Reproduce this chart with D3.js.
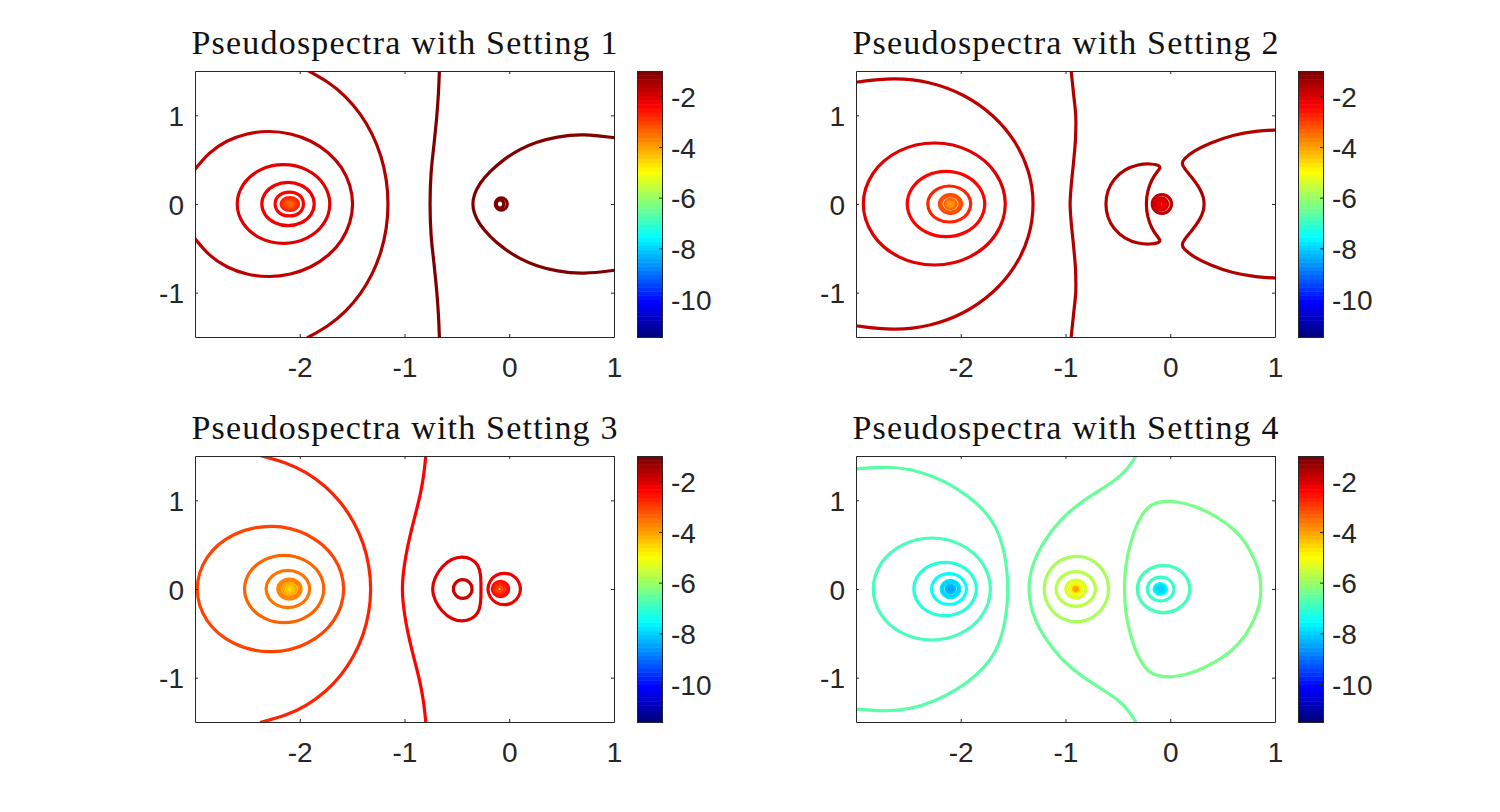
<!DOCTYPE html>
<html lang="en">

<head>
    <meta charset="utf-8">
    <title>Pseudospectra</title>
    <script src="https://cdnjs.cloudflare.com/ajax/libs/d3/7.8.5/d3.min.js"></script>
    <style type="text/css">
        body {
            margin: 0;
            background: #fff;
        }

        svg {
            display: block;
        }

        .tick text {
            font-family: "Liberation Sans", Arial, sans-serif;
            font-size: 28px;
            fill: #262626;
        }

        .tick line,
        .domain {
            stroke: #262626;
        }

        .title {
            font-family: "Liberation Serif", serif;
            font-size: 34px;
            fill: #111;
        }

        .contour {
            fill: none;
            stroke-width: 3.2;
        }
    </style>
</head>

<body>
    <script type="text/javascript">
        var titles = ["Pseudospectra with Setting 1", "Pseudospectra with Setting 2", "Pseudospectra with Setting 3", "Pseudospectra with Setting 4"];
        var xTicks = [-2, -1, 0, 1];
        var yTicks = [-1, 0, 1];
        var barTicks = [-10, -8, -6, -4, -2];
        var xLimits = [-3, 1];
        var yLimits = [-1.5, 1.5];
        var barLimits = [-11.5, -1];

        // each curve is the upper half of a level line; the lower half is its mirror
        var levels1 = [-1.5, -1.7, -2.0, -2.2, -2.4, -2.65, -2.9, -3.1, -3.3, -1.1, -1.05, -1.05, -1.1];
        var curves1 = [
            [[-1.93, 1.51], [-1.726, 1.377], [-1.562, 1.218], [-1.421, 1.022], [-1.306, 0.795], [-1.221, 0.544], [-1.169, 0.276], [-1.152, 0]],
            [[-3.028, 0.35], [-2.867, 0.585], [-2.7, 0.716], [-2.504, 0.799], [-2.295, 0.827], [-2.086, 0.799], [-1.89, 0.716], [-1.723, 0.585], [-1.594, 0.414], [-1.515, 0.214], [-1.486, 0]],
            [[-1.713, 0], [-1.772, 0.222], [-1.934, 0.385], [-2.155, 0.444], [-2.376, 0.385], [-2.538, 0.222], [-2.597, 0]],
            [[-1.862, 0], [-1.895, 0.122], [-1.987, 0.212], [-2.112, 0.245], [-2.237, 0.212], [-2.329, 0.122], [-2.362, 0]],
            [[-1.965, 0], [-2.0, 0.096], [-2.098, 0.135], [-2.198, 0.096], [-2.235, 0]],
            [[-2.012, 0], [-2.036, 0.052], [-2.095, 0.073], [-2.154, 0.052], [-2.178, 0]],
            [[-2.035, 0], [-2.053, 0.039], [-2.095, 0.055], [-2.137, 0.039], [-2.155, 0]],
            [[-2.055, 0], [-2.067, 0.025], [-2.095, 0.036], [-2.123, 0.025], [-2.135, 0]],
            [[-2.075, 0], [-2.081, 0.013], [-2.095, 0.018], [-2.109, 0.013], [-2.115, 0]],
            [[-0.667, 1.5], [-0.676, 1.252], [-0.692, 0.989], [-0.717, 0.688], [-0.746, 0.35], [-0.756, 0]],
            [[1.02, 0.745], [0.705, 0.793], [0.451, 0.759], [0.26, 0.699], [0.102, 0.62], [-0.057, 0.5], [-0.184, 0.368], [-0.286, 0.229], [-0.337, 0.105], [-0.352, 0]],
            [[-0.019, 0], [-0.036, 0.048], [-0.076, 0.068], [-0.116, 0.048], [-0.133, 0]],
            [[-0.052, 0], [-0.063, 0.032], [-0.088, 0.046], [-0.113, 0.032], [-0.124, 0]]
        ];

        var levels2 = [-1.8, -2.05, -2.35, -2.8, -3.1, -3.2, -3.4, -3.6, -3.8, -1.65, -1.5, -1.5, -1.7, -1.95, -2.1, -2.2];
        var curves2 = [
            [[-3.02, 1.37], [-2.638, 1.429], [-2.29, 1.38], [-1.966, 1.238], [-1.688, 1.01], [-1.475, 0.715], [-1.34, 0.37], [-1.295, 0]],
            [[-1.575, 0], [-1.666, 0.344], [-1.914, 0.596], [-2.25, 0.688], [-2.59, 0.596], [-2.838, 0.344], [-2.93, 0]],
            [[-1.771, 0], [-1.821, 0.184], [-1.956, 0.319], [-2.141, 0.368], [-2.326, 0.319], [-2.461, 0.184], [-2.511, 0]],
            [[-1.905, 0], [-1.932, 0.102], [-2.007, 0.176], [-2.11, 0.203], [-2.212, 0.176], [-2.288, 0.102], [-2.315, 0]],
            [[-1.993, 0], [-2.024, 0.074], [-2.098, 0.105], [-2.172, 0.074], [-2.203, 0]],
            [[-2.008, 0], [-2.034, 0.064], [-2.098, 0.09], [-2.162, 0.064], [-2.188, 0]],
            [[-2.046, 0], [-2.061, 0.037], [-2.098, 0.052], [-2.135, 0.037], [-2.15, 0]],
            [[-2.058, 0], [-2.07, 0.028], [-2.098, 0.04], [-2.126, 0.028], [-2.138, 0]],
            [[-2.078, 0], [-2.084, 0.014], [-2.098, 0.02], [-2.112, 0.014], [-2.118, 0]],
            [[-0.946, 1.5], [-0.924, 1.252], [-0.902, 0.989], [-0.905, 0.726], [-0.924, 0.462], [-0.946, 0.199], [-0.956, 0]],
            [[-0.232, 0], [-0.219, 0.143], [-0.178, 0.274], [-0.124, 0.368], [-0.092, 0.406], [-0.108, 0.44], [-0.194, 0.455], [-0.305, 0.447], [-0.432, 0.395], [-0.543, 0.282], [-0.603, 0.143], [-0.619, 0]],
            [[1.02, 0.836], [0.822, 0.823], [0.6, 0.782], [0.378, 0.688], [0.219, 0.594], [0.13, 0.508], [0.108, 0.462], [0.13, 0.406], [0.203, 0.305], [0.283, 0.18], [0.321, 0.068], [0.324, 0]],
            [[0.012, 0], [-0.015, 0.074], [-0.08, 0.105], [-0.145, 0.074], [-0.172, 0]],
            [[-0.025, 0], [-0.043, 0.05], [-0.085, 0.07], [-0.127, 0.05], [-0.145, 0]],
            [[-0.045, 0], [-0.057, 0.032], [-0.085, 0.045], [-0.113, 0.032], [-0.125, 0]],
            [[-0.065, 0], [-0.071, 0.016], [-0.085, 0.022], [-0.099, 0.016], [-0.105, 0]]
        ];

        var levels3 = [-2.65, -2.4, -3.0, -3.3, -3.5, -3.65, -3.75, -4.0, -4.2, -4.4, -4.6, -2.0, -1.85, -2.2, -2.45, -2.55, -2.8, -3.1];
        var curves3 = [
            [[-2.379, 1.505], [-2.128, 1.428], [-1.934, 1.316], [-1.757, 1.164], [-1.605, 0.977], [-1.482, 0.76], [-1.391, 0.52], [-1.336, 0.264], [-1.317, 0]],
            [[-0.797, 1.5], [-0.813, 1.308], [-0.841, 1.102], [-0.892, 0.857], [-0.946, 0.613], [-0.99, 0.368], [-1.016, 0.143], [-1.022, 0]],
            [[-1.581, 0], [-1.675, 0.354], [-1.931, 0.612], [-2.265, 0.707], [-2.629, 0.612], [-2.885, 0.354], [-2.978, 0]],
            [[-1.771, 0], [-1.822, 0.19], [-1.96, 0.329], [-2.149, 0.38], [-2.338, 0.329], [-2.476, 0.19], [-2.527, 0]],
            [[-1.905, 0], [-1.933, 0.105], [-2.009, 0.182], [-2.113, 0.21], [-2.217, 0.182], [-2.293, 0.105], [-2.321, 0]],
            [[-1.987, 0], [-2.02, 0.08], [-2.098, 0.113], [-2.176, 0.08], [-2.209, 0]],
            [[-2.003, 0], [-2.031, 0.067], [-2.098, 0.095], [-2.165, 0.067], [-2.193, 0]],
            [[-2.038, 0], [-2.055, 0.046], [-2.098, 0.066], [-2.141, 0.046], [-2.158, 0]],
            [[-2.053, 0], [-2.066, 0.034], [-2.098, 0.048], [-2.13, 0.034], [-2.143, 0]],
            [[-2.073, 0], [-2.08, 0.018], [-2.098, 0.026], [-2.116, 0.018], [-2.123, 0]],
            [[-2.09, 0], [-2.092, 0.006], [-2.098, 0.009], [-2.104, 0.006], [-2.106, 0]],
            [[-0.27, 0], [-0.27, 0.162], [-0.295, 0.274], [-0.359, 0.342], [-0.448, 0.368], [-0.549, 0.342], [-0.644, 0.256], [-0.714, 0.124], [-0.74, 0]],
            [[-0.355, 0], [-0.381, 0.074], [-0.444, 0.105], [-0.507, 0.074], [-0.533, 0]],
            [[0.107, 0], [0.086, 0.088], [0.03, 0.153], [-0.048, 0.177], [-0.126, 0.153], [-0.182, 0.088], [-0.203, 0]],
            [[-0.006, 0], [-0.029, 0.06], [-0.084, 0.085], [-0.139, 0.06], [-0.162, 0]],
            [[-0.019, 0], [-0.038, 0.051], [-0.084, 0.072], [-0.13, 0.051], [-0.149, 0]],
            [[-0.049, 0], [-0.062, 0.035], [-0.092, 0.05], [-0.122, 0.035], [-0.135, 0]],
            [[-0.067, 0], [-0.074, 0.018], [-0.092, 0.026], [-0.11, 0.018], [-0.117, 0]]
        ];

        var levels4 = [-6.6, -6.85, -7.2, -7.55, -7.85, -8.0, -8.15, -8.3, -8.5, -6.5, -6.4, -5.8, -5.6, -5.4, -5.15, -4.9, -4.4, -3.9, -6.85, -7.0, -7.55, -7.75, -8.0];
        var curves4 = [
            [[-3.02, 1.352], [-2.717, 1.383], [-2.479, 1.353], [-2.257, 1.271], [-2.035, 1.139], [-1.844, 0.97], [-1.702, 0.782], [-1.632, 0.613], [-1.581, 0.406], [-1.556, 0.18], [-1.549, 0]],
            [[-1.717, 0], [-1.792, 0.288], [-1.997, 0.498], [-2.276, 0.575], [-2.555, 0.498], [-2.76, 0.288], [-2.835, 0]],
            [[-1.851, 0], [-1.892, 0.15], [-2.001, 0.261], [-2.15, 0.301], [-2.299, 0.261], [-2.408, 0.15], [-2.448, 0]],
            [[-1.946, 0], [-1.968, 0.087], [-2.028, 0.15], [-2.112, 0.173], [-2.196, 0.15], [-2.257, 0.087], [-2.279, 0]],
            [[-2.01, 0], [-2.036, 0.069], [-2.098, 0.098], [-2.16, 0.069], [-2.186, 0]],
            [[-2.023, 0], [-2.045, 0.057], [-2.098, 0.08], [-2.151, 0.057], [-2.173, 0]],
            [[-2.056, 0], [-2.068, 0.032], [-2.098, 0.046], [-2.128, 0.032], [-2.14, 0]],
            [[-2.068, 0], [-2.077, 0.024], [-2.098, 0.034], [-2.119, 0.024], [-2.128, 0]],
            [[-2.086, 0], [-2.09, 0.01], [-2.098, 0.014], [-2.106, 0.01], [-2.11, 0]],
            [[-0.327, 1.5], [-0.4, 1.365], [-0.495, 1.252], [-0.638, 1.139], [-0.86, 0.977], [-1.051, 0.782], [-1.21, 0.538], [-1.321, 0.274], [-1.362, 0]],
            [[-0.441, 0], [-0.429, 0.256], [-0.384, 0.519], [-0.305, 0.782], [-0.21, 0.94], [-0.098, 0.989], [0.044, 0.996], [0.251, 0.932], [0.441, 0.82], [0.6, 0.688], [0.727, 0.519], [0.806, 0.331], [0.854, 0.18], [0.87, 0]],
            [[-0.59, 0], [-0.63, 0.184], [-0.743, 0.319], [-0.886, 0.368], [-1.05, 0.319], [-1.162, 0.184], [-1.203, 0]],
            [[-0.714, 0], [-0.739, 0.098], [-0.808, 0.169], [-0.902, 0.195], [-0.996, 0.169], [-1.065, 0.098], [-1.09, 0]],
            [[-0.807, 0], [-0.835, 0.071], [-0.902, 0.1], [-0.969, 0.071], [-0.997, 0]],
            [[-0.842, 0], [-0.86, 0.046], [-0.902, 0.065], [-0.944, 0.046], [-0.962, 0]],
            [[-0.862, 0], [-0.874, 0.031], [-0.902, 0.044], [-0.93, 0.031], [-0.942, 0]],
            [[-0.88, 0], [-0.886, 0.017], [-0.902, 0.024], [-0.918, 0.017], [-0.924, 0]],
            [[-0.894, 0], [-0.896, 0.006], [-0.902, 0.009], [-0.908, 0.006], [-0.91, 0]],
            [[0.187, 0], [0.153, 0.134], [0.061, 0.231], [-0.064, 0.267], [-0.189, 0.231], [-0.281, 0.134], [-0.314, 0]],
            [[0.035, 0], [-0.002, 0.095], [-0.092, 0.135], [-0.182, 0.095], [-0.219, 0]],
            [[-0.035, 0], [-0.053, 0.042], [-0.095, 0.06], [-0.137, 0.042], [-0.155, 0]],
            [[-0.05, 0], [-0.063, 0.032], [-0.095, 0.045], [-0.127, 0.032], [-0.14, 0]],
            [[-0.075, 0], [-0.081, 0.014], [-0.095, 0.02], [-0.109, 0.014], [-0.115, 0]]
        ];

        var allLevels = [levels1, levels2, levels3, levels4];
        var allCurves = [curves1, curves2, curves3, curves4];

        var w = 1500;
        var h = 812;
        var panelLeft = [195, 856, 195, 856];
        var panelTop = [71, 71, 456, 456];
        var panelW = 419;
        var panelH = 266;
        var barGap = 23;
        var barW = 25;
        var nColors = 64;

        // matlab jet, 64 steps
        function jet(t) {
            var k = Math.min(nColors - 1, Math.floor(t * nColors)) / (nColors - 1);
            function c(center) {
                return Math.round(255 * Math.max(0, Math.min(1, 1.5 - Math.abs(4 * k - center))));
            }
            return d3.rgb(c(3), c(2), c(1)).formatHex();
        }

        var barNorm = d3.scaleLinear().domain(barLimits).range([0, 1]);

        var svg = d3.select("body")
            .append("svg")
            .attr("width", w)
            .attr("height", h);

        var lineOpen = d3.line().curve(d3.curveCatmullRom.alpha(0.5));
        var lineClosed = d3.line().curve(d3.curveCatmullRomClosed.alpha(0.5));
        // long curves have enough points that the basis spline hides reading errors
        var lineOpenSmooth = d3.line().curve(d3.curveBasis);
        var lineClosedSmooth = d3.line().curve(d3.curveBasisClosed);

        function mirrored(curve) {
            var lower = curve.slice(0, -1).reverse().map(p => [p[0], -p[1]]);
            return curve.concat(lower);
        }

        titles.forEach(function (title, i) {
            var left = panelLeft[i];
            var top = panelTop[i];
            var xScale = d3.scaleLinear().domain(xLimits).range([0, panelW]);
            var yScale = d3.scaleLinear().domain(yLimits).range([panelH, 0]);

            var g = svg.append("g").attr("transform", "translate(" + left + "," + top + ")");

            g.append("clipPath").attr("id", "clip" + i)
                .append("rect").attr("width", panelW).attr("height", panelH);

            var plot = g.append("g").attr("clip-path", "url(#clip" + i + ")");
            plot.selectAll("path")
                .data(allCurves[i])
                .enter().append("path")
                .attr("class", "contour")
                .attr("stroke", (d, j) => jet(barNorm(allLevels[i][j])))
                .attr("d", function (d) {
                    var pts = mirrored(d).map(p => [xScale(p[0]), yScale(p[1])]);
                    var smooth = d.length > 7;
                    // curve starting on the real axis comes back to itself
                    if (d[0][1] === 0) {
                        pts.pop();
                        return (smooth ? lineClosedSmooth : lineClosed)(pts);
                    }
                    return (smooth ? lineOpenSmooth : lineOpen)(pts);
                });

            g.append("g").attr("transform", "translate(0," + panelH + ")")
                .call(d3.axisBottom(xScale).tickValues(xTicks).tickSize(-3).tickSizeOuter(0).tickPadding(20).tickFormat(String));
            g.append("g")
                .call(d3.axisLeft(yScale).tickValues(yTicks).tickSize(-3).tickSizeOuter(0).tickPadding(11).tickFormat(String))
                .selectAll("text").attr("dy", ".36em");
            g.append("g")
                .call(d3.axisTop(xScale).tickValues(xTicks).tickSize(-3).tickSizeOuter(0).tickFormat(""));
            g.append("g").attr("transform", "translate(" + panelW + ",0)")
                .call(d3.axisRight(yScale).tickValues(yTicks).tickSize(-3).tickSizeOuter(0).tickFormat(""));

            g.append("text")
                .attr("class", "title")
                .attr("x", panelW / 2)
                .attr("y", -17)
                .attr("text-anchor", "middle")
                .attr("textLength", 426)
                .text(title);

            // colorbar
            var bar = g.append("g").attr("transform", "translate(" + (panelW + barGap) + ",0)");
            var barScale = d3.scaleLinear().domain(barLimits).range([panelH, 0]);
            var stepH = panelH / nColors;
            bar.selectAll("rect")
                .data(d3.range(nColors))
                .enter().append("rect")
                .attr("x", 0)
                .attr("y", d => panelH - (d + 1) * stepH)
                .attr("width", barW)
                .attr("height", stepH + 0.5)
                .attr("fill", d => jet((d + 0.5) / nColors));
            bar.append("rect")
                .attr("x", 0.5).attr("y", 0.5)
                .attr("width", barW).attr("height", panelH)
                .attr("fill", "none").attr("stroke", "#262626");
            bar.append("g").attr("transform", "translate(" + barW + ",0)")
                .call(d3.axisRight(barScale).tickValues(barTicks).tickSize(-3).tickSizeOuter(0).tickPadding(9).tickFormat(String))
                .selectAll("text").attr("dy", ".36em");
        });
    </script>
</body>

</html>
